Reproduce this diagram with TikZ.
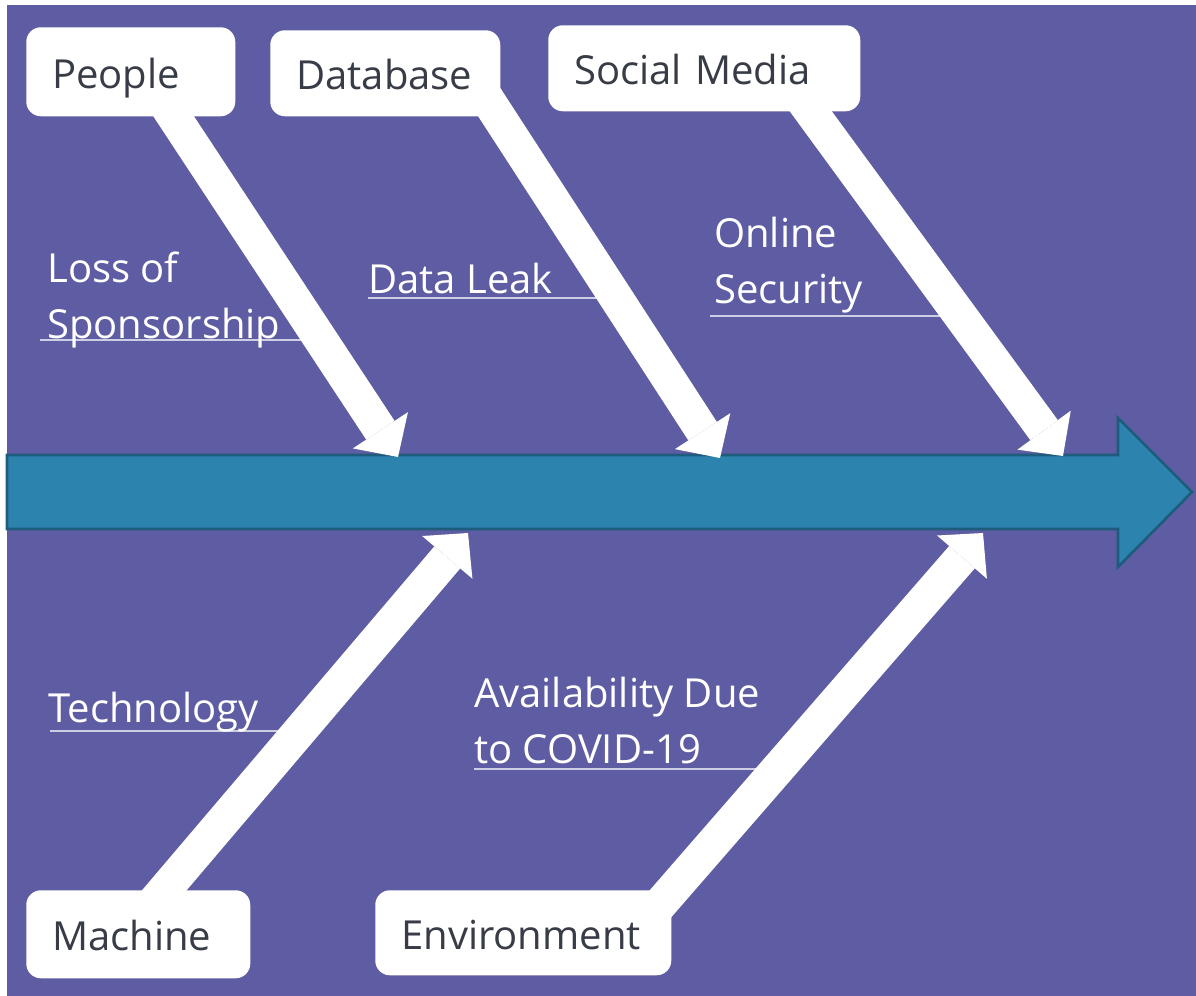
\documentclass[tikz,border=0pt]{standalone}
\usepackage{fontspec}
\setmainfont{Open Sans}
\usetikzlibrary{arrows.meta}
\pgfdeclarelayer{backdrop}
\pgfdeclarelayer{bones}
\pgfsetlayers{backdrop,bones,main}
\definecolor{panel}{RGB}{94,92,162}
\definecolor{spinefill}{RGB}{44,132,174}
\definecolor{spineedge}{RGB}{30,92,124}
\definecolor{boxtext}{RGB}{55,60,70}
\definecolor{rule}{RGB}{205,205,228}
\begin{document}
\begin{tikzpicture}[x=0.75pt,y=-0.75pt,
  catbox/.style={fill=white,draw=none,rounded corners=11pt,anchor=north west,
    inner xsep=0pt,inner ysep=0pt,align=left,text=boxtext,
    text height=24.75pt,text depth=0pt,
    font=\fontsize{30}{36}\selectfont},
  cause/.style={anchor=base west,inner sep=0pt,text=white,align=left,
    font=\fontsize{30}{41.6}\selectfont},
  rib/.style={draw=white,line width=25.5pt,
    -{Triangle[length=24pt,width=49.5pt,line width=0pt]}},
  uline/.style={draw=rule,line width=1.2pt}]
\useasboundingbox (0,0) rectangle (1196,996);

\begin{pgfonlayer}{backdrop}
  \fill[panel] (7,5) rectangle (1196,996);
\end{pgfonlayer}

% category boxes
\node[catbox,minimum width=156.75pt,minimum height=66.75pt,text width=117.75pt] (people) at (26,27) {People};
\node[catbox,minimum width=172.5pt,minimum height=64.5pt,text width=133.5pt] (database) at (270,30) {Database};
\node[catbox,minimum width=234pt,minimum height=64.5pt,text width=195pt] (social) at (548,25) {Social Media};
\node[catbox,minimum width=168pt,minimum height=66pt,text width=129pt] (machine) at (26,890) {Machine};
\node[catbox,minimum width=222pt,minimum height=63.75pt,text width=183pt] (environment) at (375,890) {Environment};

% cause labels (anchored at the baseline of the last line)
\node[cause] (loss) at (47,338) {Loss of\\Sponsorship};
\node[cause] (leak) at (368,293) {Data Leak};
\node[cause] (online) at (714,303) {Online\\Security};
\node[cause] (tech) at (48,722) {Technology};
\node[cause] (avail) at (474,763) {Availability Due\\to COVID-19};

% rib roots and tips
\coordinate (people-root) at (157,91);
\coordinate (people-tip) at (398,457);
\coordinate (database-root) at (482,91);
\coordinate (database-tip) at (720,458);
\coordinate (social-root) at (793,87);
\coordinate (social-tip) at (1063,456);
\coordinate (machine-root) at (145,913);
\coordinate (machine-tip) at (468,533);
\coordinate (environment-root) at (642,925);
\coordinate (environment-tip) at (983,533);

\begin{pgfonlayer}{bones}
  % main spine
  \draw[fill=spinefill,draw=spineedge,line width=2pt,line join=miter]
    (7,455) -- (1118,455) -- (1118,418) -- (1192,492) -- (1118,567)
    -- (1118,529) -- (7,529) -- cycle;
  % underlines
  \draw[uline] (40,340) -- (305,340);
  \draw[uline] (368,298) -- (605,298);
  \draw[uline] (710,316) -- (945,316);
  \draw[uline] (50,731) -- (285,731);
  \draw[uline] (474,769) -- (760,769);
  % ribs
  \draw[rib] (people-root) -- (people-tip);
  \draw[rib] (database-root) -- (database-tip);
  \draw[rib] (social-root) -- (social-tip);
  \draw[rib] (machine-root) -- (machine-tip);
  \draw[rib] (environment-root) -- (environment-tip);
\end{pgfonlayer}
\end{tikzpicture}
\end{document}
